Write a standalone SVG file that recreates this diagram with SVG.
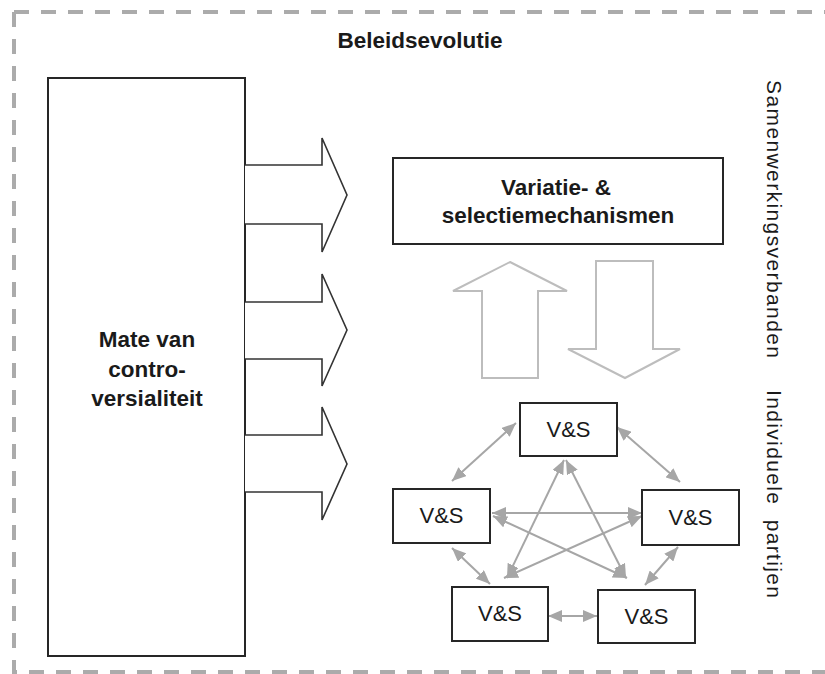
<svg xmlns="http://www.w3.org/2000/svg" width="825" height="674" viewBox="0 0 825 674">
<style>
  .frame { fill: none; stroke: #ababab; stroke-width: 4; stroke-dasharray: 15 12; }
  .box { fill: #ffffff; stroke: #262626; stroke-width: 2; }
  .blk { fill: #ffffff; stroke: #333333; stroke-width: 1.6; stroke-linejoin: miter; }
  .hollow { fill: #ffffff; stroke: #bdbdbd; stroke-width: 2; }
  .conn { stroke: #a6a6a6; stroke-width: 2; fill: none; marker-start: url(#ah); marker-end: url(#ah); }
  .tb { font-family: "Liberation Sans", Arial, sans-serif; font-weight: bold; font-size: 22.5px; fill: #1a1a1a; text-anchor: middle; }
  .tr { font-family: "Liberation Sans", Arial, sans-serif; font-size: 22px; fill: #1a1a1a; text-anchor: middle; }
  .tv { font-family: "Liberation Sans", Arial, sans-serif; font-size: 21px; fill: #1a1a1a; }
</style>
<defs>
  <marker id="ah" viewBox="0 0 14 12" refX="14" refY="6" markerWidth="14" markerHeight="12" markerUnits="userSpaceOnUse" orient="auto-start-reverse">
    <path d="M0,0 L14,6 L0,12 z" fill="#a6a6a6"/>
  </marker>
</defs>
<rect width="825" height="674" fill="#ffffff"/>
<path class="frame" d="M14,12 H826"/>
<path class="frame" d="M14,12 V672 H826"/>
<text class="tb" x="420" y="48">Beleidsevolutie</text>

<g id="controversialiteit">
  <rect class="box" x="48" y="78" width="197" height="578"/>
  <text class="tb" x="147" y="347">Mate van</text>
  <text class="tb" x="147" y="377">contro-</text>
  <text class="tb" x="147" y="406">versialiteit</text>
</g>

<g id="block-arrows">
  <polyline class="blk" points="245,165 322,165 322,138 347,195 322,252 322,224 245,224"/>
  <polyline class="blk" points="245,302 322,302 322,274 347,330 322,386 322,359 245,359"/>
  <polyline class="blk" points="245,435 322,435 322,407 347,464 322,520 322,492 245,492"/>
</g>

<g id="variatie">
  <rect class="box" x="393" y="158" width="330" height="86"/>
  <text class="tb" x="556" y="195">Variatie- &amp;</text>
  <text class="tb" x="558" y="223">selectiemechanismen</text>
</g>

<g id="updown">
  <polygon class="hollow" points="510,262 567,291 538,291 538,378 482,378 482,291 453,291"/>
  <polygon class="hollow" points="596,261 653,261 653,349 680,349 625,378 568,349 596,349"/>
</g>

<g id="connectors">
  <line class="conn" x1="516" y1="423" x2="452" y2="481"/>
  <line class="conn" x1="617" y1="427" x2="680" y2="482"/>
  <line class="conn" x1="452" y1="548" x2="490" y2="584"/>
  <line class="conn" x1="678" y1="547" x2="645" y2="585"/>
  <line class="conn" x1="548" y1="616" x2="597" y2="616"/>
  <line class="conn" x1="492" y1="513" x2="642" y2="513"/>
  <line class="conn" x1="493" y1="516" x2="627" y2="578"/>
  <line class="conn" x1="642" y1="516" x2="504" y2="578"/>
  <line class="conn" x1="564" y1="460" x2="507" y2="578"/>
  <line class="conn" x1="566" y1="460" x2="626" y2="578"/>
</g>

<g id="vs-top">
  <rect class="box" x="520" y="403" width="97" height="53"/>
  <text class="tr" x="568.5" y="437">V&amp;S</text>
</g>
<g id="vs-left">
  <rect class="box" x="393" y="489" width="97" height="54"/>
  <text class="tr" x="441.5" y="523">V&amp;S</text>
</g>
<g id="vs-right">
  <rect class="box" x="642" y="490" width="97" height="55"/>
  <text class="tr" x="690.5" y="525">V&amp;S</text>
</g>
<g id="vs-bottom-left">
  <rect class="box" x="452" y="587" width="96" height="54"/>
  <text class="tr" x="500" y="621">V&amp;S</text>
</g>
<g id="vs-bottom-right">
  <rect class="box" x="598" y="590" width="97" height="53"/>
  <text class="tr" x="646.5" y="624">V&amp;S</text>
</g>

<g id="side-labels">
  <text class="tv" transform="translate(767,80) rotate(90)" textLength="278" lengthAdjust="spacing">Samenwerkingsverbanden</text>
  <text class="tv" transform="translate(767,390) rotate(90)" textLength="208" lengthAdjust="spacing" xml:space="preserve">Individuele  partijen</text>
</g>
</svg>
